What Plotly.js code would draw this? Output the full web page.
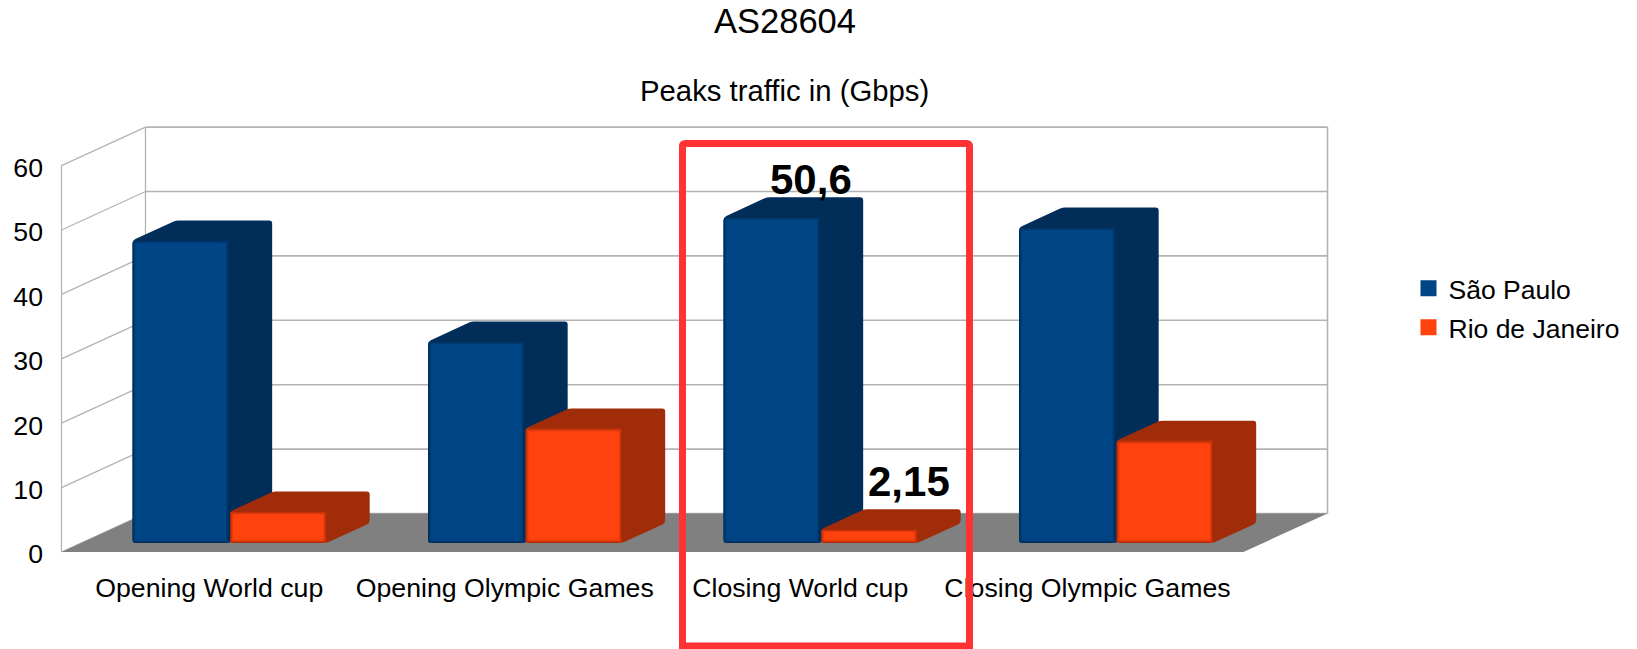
<!DOCTYPE html>
<html>
<head>
<meta charset="utf-8">
<script src="https://cdn.plot.ly/plotly-3.0.1.min.js"></script>
<style>html,body{margin:0;padding:0;background:#fff}#chart{width:1637px;height:649px}</style>
</head>
<body>
<div id="chart"></div>
<script>
// Peak traffic per event, one value per city
const categories = ['Opening World cup', 'Opening Olympic Games', 'Closing World cup', 'Closing Olympic Games'];
const saoPaulo = [47, 31.3, 50.6, 49];
const rioDeJaneiro = [4.9, 17.8, 2.15, 15.9];
const yTicks = [0, 10, 20, 30, 40, 50, 60];
const blue = '#004586', blueSide = '#002e59';
const orange = '#ff420e', orangeSide = '#a02c09';
const FONT = '"Liberation Sans", Arial, sans-serif';

// Plot frame in page pixels and the size of one axis unit
const W = 1637, H = 649;
const frame = {l: 60, r: 1329, t: 126, b: 554};
const origin = {x: 61.5, y: 552};
const unitX = 295.5, unitY = 6.44;

// Oblique projection of the chart's depth
const depthX = 84 / unitX, depthY = 38.5 / unitY;
const barFront = 0.234, barDepth = 0.515;
const barWidth = 0.326, barGap = 0.174;
const baseY = barFront * depthY;

const leftOf = (i, s) => i + barFront * depthX + barGap + s * (barWidth + 0.004);
const centerOf = (i, s) => leftOf(i, s) + barWidth / 2;

function line(x0, y0, x1, y1, width) {
  return {type: 'line', layer: 'below', xref: 'x', yref: 'y', x0, y0, x1, y1,
          line: {color: '#b3b3b3', width}};
}

// Closed path through data points with corners rounded by r pixels
function roundedPath(pts, r) {
  const n = pts.length;
  let d = '';
  for (let k = 0; k < n; k++) {
    const p = pts[k], a = pts[(k + n - 1) % n], b = pts[(k + 1) % n];
    const step = (q) => {
      const dx = (q[0] - p[0]) * unitX, dy = (q[1] - p[1]) * unitY;
      const len = Math.hypot(dx, dy) || 1;
      const t = Math.min(r / len, 0.5);
      return [p[0] + (q[0] - p[0]) * t, p[1] + (q[1] - p[1]) * t];
    };
    const s = step(a), e = step(b);
    d += (k === 0 ? 'M' : 'L') + s[0] + ',' + s[1] + 'Q' + p[0] + ',' + p[1] + ' ' + e[0] + ',' + e[1];
  }
  return d + 'Z';
}

const shapes = [];

// Back wall, side wall and floor
yTicks.forEach(v => {
  shapes.push(line(depthX, v + depthY, 4 + depthX, v + depthY, 1.6));
  shapes.push(line(0, v, depthX, v + depthY, 1.3));
});
shapes.push(line(0, 0, 0, 60, 1.2));
shapes.push(line(depthX, depthY, depthX, 60 + depthY, 1.3));
shapes.push(line(4 + depthX, depthY, 4 + depthX, 60 + depthY, 1.6));
shapes.push({type: 'path', layer: 'below', xref: 'x', yref: 'y',
  path: `M0,0L4,0L${4 + depthX},${depthY}L${depthX},${depthY}Z`,
  fillcolor: '#808080', line: {width: 0}});

// Top and side faces of each bar, blue first so orange sits in front
function addBody(values, s, color) {
  values.forEach((v, i) => {
    const x0 = leftOf(i, s), x1 = x0 + barWidth;
    const top = baseY + v, ox = barDepth * depthX, oy = barDepth * depthY;
    shapes.push({type: 'path', layer: 'below', xref: 'x', yref: 'y',
      path: roundedPath([[x0, top], [x0 + ox, top + oy], [x1 + ox, top + oy],
                         [x1 + ox, baseY + oy], [x1, baseY], [x0, baseY]], 3),
      fillcolor: color, line: {width: 0}});
  });
}
addBody(saoPaulo, 0, blueSide);
addBody(rioDeJaneiro, 1, orangeSide);

// Soft darkened rim around each front face
function addRim(values, s) {
  values.forEach((v, i) => {
    [[0.5, 0.34], [1.5, 0.2], [2.5, 0.09]].forEach(([inset, alpha]) => {
      const ix = inset / unitX, iy = inset / unitY;
      const x0 = leftOf(i, s) + ix, x1 = leftOf(i, s) + barWidth - ix;
      const y0 = baseY + iy, y1 = baseY + v - iy;
      shapes.push({type: 'path', layer: 'above', xref: 'x', yref: 'y',
        path: roundedPath([[x0, y0], [x1, y0], [x1, y1], [x0, y1]], 3),
        fillcolor: 'rgba(0,0,0,0)', line: {color: 'rgba(0,0,0,' + alpha + ')', width: 1}});
    });
  });
}
addRim(saoPaulo, 0);
addRim(rioDeJaneiro, 1);

// Red frame around the closing World Cup group
const px = (x) => (x - frame.l) / (frame.r - frame.l);
const py = (y) => (frame.b - y) / (frame.b - frame.t);
const box = {l: 682.5, r: 969.5, t: 143.5, b: 646, c: 3};
shapes.push({type: 'path', layer: 'above', xref: 'paper', yref: 'paper',
  path: `M${px(box.l)},${py(box.t + box.c)}Q${px(box.l)},${py(box.t)} ${px(box.l + box.c)},${py(box.t)}` +
        `L${px(box.r - box.c)},${py(box.t)}Q${px(box.r)},${py(box.t)} ${px(box.r)},${py(box.t + box.c)}` +
        `L${px(box.r)},${py(box.b)}L${px(box.l)},${py(box.b)}Z`,
  fillcolor: 'rgba(0,0,0,0)', line: {color: '#ff3333', width: 7}});

const comma = (v) => String(v).replace('.', ',');
const valueLabel = (v, i, s, lift) => ({
  xref: 'x', yref: 'y', x: centerOf(i, s) + 0.133, y: baseY + v, yshift: lift,
  xanchor: 'center', yanchor: 'bottom', showarrow: false, text: comma(v),
  font: {family: FONT, size: 42, color: '#000', weight: 700}
});

const barTrace = (name, values, s, color) => ({
  type: 'bar', name, x: values.map((_, i) => centerOf(i, s)), y: values,
  base: values.map(() => baseY), width: barWidth,
  marker: {color, line: {width: 0}}, showlegend: false, hoverinfo: 'y'
});
const keyTrace = (name, color) => ({
  type: 'scatter', mode: 'markers', name, x: [null], y: [null], legendgroup: name,
  marker: {symbol: 'square', size: 16, color}, hoverinfo: 'skip'
});

const traces = [
  barTrace('São Paulo', saoPaulo, 0, blue),
  barTrace('Rio de Janeiro', rioDeJaneiro, 1, orange),
  keyTrace('São Paulo', blue),
  keyTrace('Rio de Janeiro', orange)
];

const layout = {
  width: W, height: H,
  paper_bgcolor: '#fff', plot_bgcolor: 'rgba(0,0,0,0)',
  margin: {l: frame.l, r: W - frame.r, t: frame.t, b: H - frame.b, pad: 0, autoexpand: false},
  font: {family: FONT, color: '#000', size: 26.5},
  barmode: 'overlay', barcornerradius: 3,
  title: {text: 'AS28604', xref: 'container', yref: 'container', x: 785 / W, y: 1 - 21 / H,
          xanchor: 'center', yanchor: 'middle', font: {family: FONT, size: 34.5, color: '#000'}},
  xaxis: {
    range: [(frame.l - origin.x) / unitX, (frame.r - origin.x) / unitX],
    tickmode: 'array', tickvals: [0.5, 1.5, 2.5, 3.472], ticktext: categories,
    tickangle: 0, ticks: '', showgrid: false, zeroline: false, showline: false,
    ticklabelstandoff: 15, tickfont: {family: FONT, size: 26.7, color: '#000'}, fixedrange: true
  },
  yaxis: {
    range: [(origin.y - frame.b) / unitY, (origin.y - frame.t) / unitY],
    tickmode: 'array', tickvals: yTicks, ticks: '', showgrid: false, zeroline: false, showline: false,
    ticklabelstandoff: 16, ticklabelshift: 2, tickfont: {family: FONT, size: 26.7, color: '#000'}, fixedrange: true
  },
  legend: {
    x: px(1408.5), y: py(264.5), xanchor: 'left', yanchor: 'top', bgcolor: 'rgba(0,0,0,0)',
    traceorder: 'grouped', tracegroupgap: 1.5, itemsizing: 'trace',
    font: {family: FONT, size: 26.5, color: '#000'}
  },
  annotations: [
    {xref: 'paper', yref: 'paper', x: px(784), y: py(90), xanchor: 'center', yanchor: 'middle',
     showarrow: false, text: 'Peaks traffic in (Gbps)', font: {family: FONT, size: 29.3, color: '#000'}},
    valueLabel(saoPaulo[2], 2, 0, 12),
    valueLabel(rioDeJaneiro[2], 2, 1, 22)
  ],
  shapes
};

Plotly.newPlot('chart', traces, layout, {displayModeBar: false, staticPlot: true});
</script>
</body>
</html>
